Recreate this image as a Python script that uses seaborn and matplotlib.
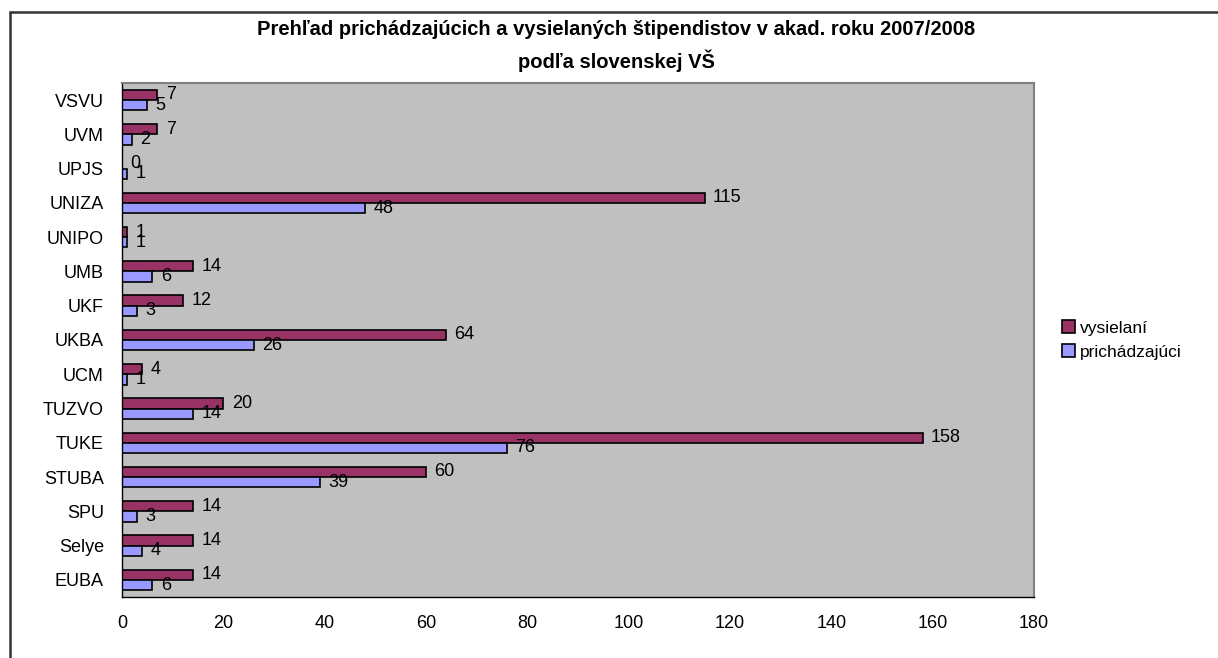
import numpy as np
import pandas as pd
import matplotlib
matplotlib.use("Agg")
import matplotlib.pyplot as plt
from matplotlib.lines import Line2D
import seaborn as sns

categories = ["VSVU", "UVM", "UPJS", "UNIZA", "UNIPO", "UMB", "UKF", "UKBA",
              "UCM", "TUZVO", "TUKE", "STUBA", "SPU", "Selye", "EUBA"]
vysielani = [7, 7, 0, 115, 1, 14, 12, 64, 4, 20, 158, 60, 14, 14, 14]
prichadzajuci = [5, 2, 1, 48, 1, 6, 3, 26, 1, 14, 76, 39, 3, 4, 6]
series_names = ["vysielaní", "prichádzajúci"]
x_ticks = [0, 20, 40, 60, 80, 100, 120, 140, 160, 180]
title = "Prehľad prichádzajúcich a vysielaných štipendistov v akad. roku 2007/2008\npodľa slovenskej VŠ"

df = pd.DataFrame({
    "VS": categories * 2,
    "val": vysielani + prichadzajuci,
    "series": [series_names[0]] * len(categories) + [series_names[1]] * len(categories),
})

sns.set_style("white")
plt.rcParams["font.family"] = ["Liberation Sans", "DejaVu Sans"]
plt.rcParams["text.color"] = "black"
plt.rcParams["xtick.color"] = "black"
plt.rcParams["ytick.color"] = "black"
plt.rcParams["axes.labelcolor"] = "black"

fig = plt.figure(figsize=(12.18, 6.58), dpi=100)
ax = fig.add_axes([122 / 1218, 1 - 597 / 658, (1034 - 122) / 1218, (597 - 83) / 658])
ax.set_facecolor("#C0C0C0")

sns.barplot(data=df, x="val", y="VS", hue="series", order=categories,
            hue_order=series_names, palette=["#993366", "#9999FF"],
            orient="h", width=0.6, edgecolor="black", linewidth=1.2,
            saturation=1, ax=ax, errorbar=None)

for cont in ax.containers:
    ax.bar_label(cont, padding=6, fontsize=13, color="black")

ax.set_xlim(0, 180)
ax.set_ylim(len(categories) - 0.5, -0.5)
ax.set_xticks(x_ticks)
ax.set_xticklabels([str(t) for t in x_ticks], fontsize=13, color="black")
ax.set_yticks(range(len(categories)))
ax.set_yticklabels(categories, fontsize=13, color="black")
ax.set_yticks(np.arange(-0.5, len(categories), 1), minor=True)
ax.tick_params(axis="y", which="major", length=0, pad=13)
ax.tick_params(axis="y", which="minor", length=5, direction="out", width=1, color="black")
ax.tick_params(axis="x", which="major", length=5, direction="out", width=1, color="black", pad=8)
ax.set_xlabel("")
ax.set_ylabel("")

for side in ["left", "bottom"]:
    ax.spines[side].set_color("black")
    ax.spines[side].set_linewidth(1)
for side in ["top", "right"]:
    ax.spines[side].set_visible(True)
    ax.spines[side].set_color("#808080")
    ax.spines[side].set_linewidth(1.5)

handles, labels = ax.get_legend_handles_labels()
if ax.get_legend() is not None:
    ax.get_legend().remove()
leg = fig.legend(handles, labels, loc="center left",
                 bbox_to_anchor=(1053 / 1218, 1 - 340 / 658), frameon=False,
                 fontsize=12.5, handlelength=0.75, handleheight=0.75,
                 handletextpad=0.3, labelspacing=0.5, borderpad=0)
for t in leg.get_texts():
    t.set_color("black")

fig.text(616 / 1218, 1 - 46 / 658, title, ha="center", va="center",
         fontsize=14.5, fontweight="bold", linespacing=1.6, color="black")

fig.add_artist(Line2D([10 / 1218, 1], [1 - 12 / 658, 1 - 12 / 658],
                      color="#333333", lw=1.8, transform=fig.transFigure))
fig.add_artist(Line2D([10 / 1218, 10 / 1218], [0, 1 - 12 / 658],
                      color="#333333", lw=1.8, transform=fig.transFigure))

fig.savefig("out.png", dpi=100)
